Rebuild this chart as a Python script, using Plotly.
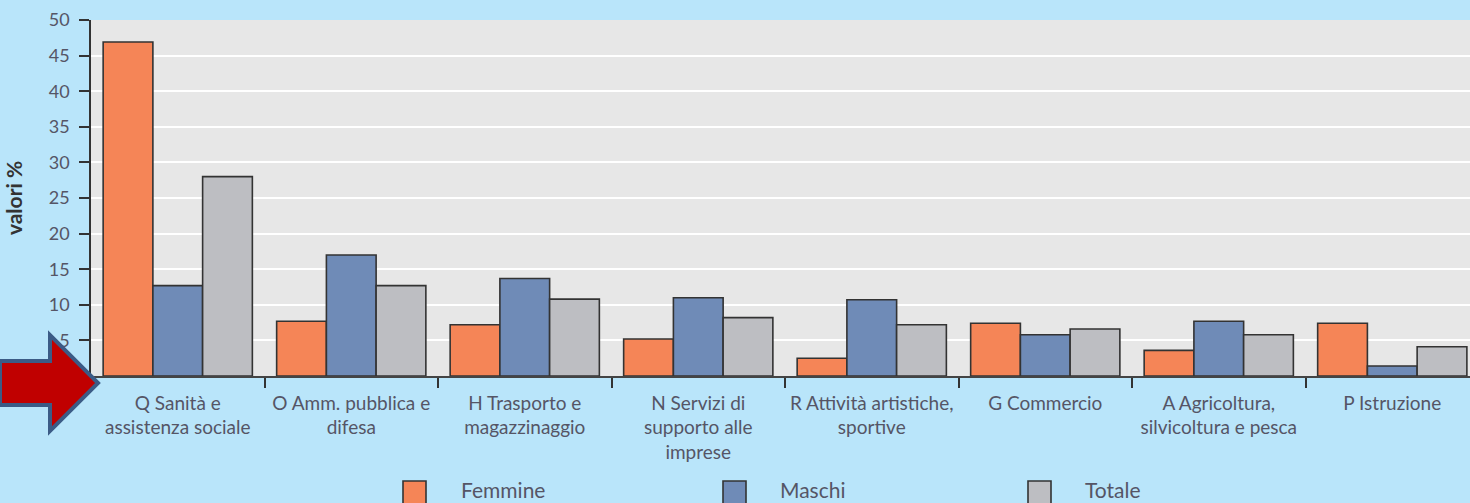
import plotly.graph_objects as go

# Sectors (x categories) and the three series, percentage values
categories = [
    "Q Sanità e<br>assistenza sociale",
    "O Amm. pubblica e<br>difesa",
    "H Trasporto e<br>magazzinaggio",
    "N Servizi di<br>supporto alle<br>imprese",
    "R Attività artistiche,<br>sportive",
    "G Commercio",
    "A Agricoltura,<br>silvicoltura e pesca",
    "P Istruzione",
]
femmine = [46.9, 7.7, 7.2, 5.2, 2.5, 7.4, 3.6, 7.4]
maschi = [12.7, 17.0, 13.7, 11.0, 10.7, 5.8, 7.7, 1.4]
totale = [28.0, 12.7, 10.8, 8.2, 7.2, 6.6, 5.8, 4.1]

series_names = ["Femmine", "Maschi", "Totale"]
series_values = [femmine, maschi, totale]
series_colors = ["#f58557", "#6f8bb7", "#bdbec2"]

y_ticks = [0, 5, 10, 15, 20, 25, 30, 35, 40, 45, 50]
y_tick_labels = ["", "5", "10", "15", "20", "25", "30", "35", "40", "45", "50"]

W, H = 1470, 503
ML, MR, MT, MB = 91, 0, 20, 127
PW = W - ML - MR
PH = H - MT - MB
BG = "#b9e5fa"
TEXT = "#555566"
FONT = "Lato"


def px_to_paper(px, py):
    return (px - ML) / PW, (H - MB - py) / PH


fig = go.Figure()
for name, vals, col in zip(series_names, series_values, series_colors):
    fig.add_trace(go.Bar(
        x=categories, y=vals, name=name,
        marker=dict(color=col, line=dict(color="#333333", width=1.6)),
        showlegend=False,
    ))

shapes = []
annotations = []

# Legend squares with labels below the axis
legend_px = [(403, 459), (723, 778), (1028, 1083)]
for (sx, tx), name, col in zip(legend_px, series_names, series_colors):
    x0, y0 = px_to_paper(sx, 506)
    x1, y1 = px_to_paper(sx + 23, 481)
    shapes.append(dict(type="rect", xref="paper", yref="paper",
                       x0=x0, y0=y0, x1=x1, y1=y1,
                       fillcolor=col, line=dict(color="#333333", width=1.6)))
    ax, ay = px_to_paper(tx, 489)
    annotations.append(dict(text=name, xref="paper", yref="paper", x=ax, y=ay,
                            xanchor="left", yanchor="middle", showarrow=False,
                            font=dict(family=FONT, size=21, color=TEXT)))

# Red arrow pointing at the horizontal axis
arrow_pts = [(0, 361), (50, 361), (50, 335), (98, 383), (50, 431), (50, 405), (0, 405)]
path = ""
for i, (ax_, ay_) in enumerate(arrow_pts):
    x, y = px_to_paper(ax_, ay_)
    path += ("M" if i == 0 else "L") + f"{x:.5f},{y:.5f}"
path += "Z"
shapes.append(dict(type="path", xref="paper", yref="paper", path=path,
                   fillcolor="#c00000", line=dict(color="#3b5b86", width=4)))

fig.update_layout(
    width=W, height=H,
    margin=dict(l=ML, r=MR, t=MT, b=MB, pad=0),
    paper_bgcolor=BG,
    plot_bgcolor="#e7e7e7",
    barmode="group",
    bargap=0.14,
    bargroupgap=0,
    font=dict(family=FONT, color=TEXT),
    shapes=shapes,
    annotations=annotations,
    xaxis=dict(
        range=[-0.5, 7.448],
        tickson="boundaries",
        ticks="outside", ticklen=10, tickwidth=1.5, tickcolor="#333333",
        showgrid=False,
        showline=True, linecolor="#444444", linewidth=1.5,
        tickfont=dict(family=FONT, size=19, color=TEXT),
        ticklabelstandoff=9,
        fixedrange=True,
    ),
    yaxis=dict(
        range=[0, 50],
        tickvals=y_ticks, ticktext=y_tick_labels,
        ticks="outside", ticklen=10, tickwidth=1.5, tickcolor="#333333",
        showgrid=True, gridcolor="#ffffff", gridwidth=2,
        zeroline=False,
        showline=True, linecolor="#333333", linewidth=1.5,
        tickfont=dict(family=FONT, size=18, color=TEXT),
        ticklabelstandoff=6,
        title=dict(text="<b>valori %</b>", standoff=20,
                   font=dict(family=FONT, size=21, color="#333333")),
        fixedrange=True,
    ),
)

fig.write_html("out.html")
